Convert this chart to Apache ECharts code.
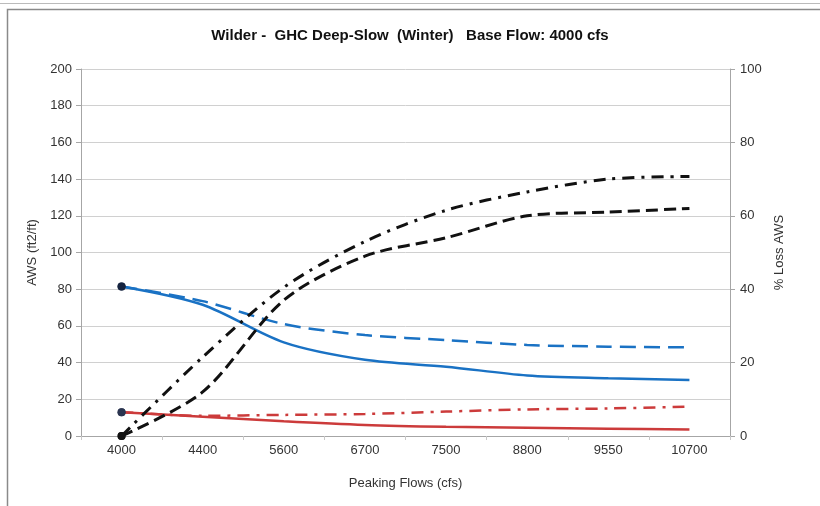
<!DOCTYPE html>
<html>
<head>
<meta charset="utf-8">
<script src="https://cdn.jsdelivr.net/npm/echarts@6/dist/echarts.min.js"></script>
<style>
html,body{margin:0;padding:0;background:#fff;}
#chart{width:820px;height:506px;}
</style>
</head>
<body>
<div id="chart"></div>
<script>
const categories = ['4000', '4400', '5600', '6700', '7500', '8800', '9550', '10700'];
const leftTicks = [0, 20, 40, 60, 80, 100, 120, 140, 160, 180, 200];
const rightTicks = [0, 20, 40, 60, 80, 100];
// AWS (ft2/ft) – left axis
const awsBlueSolid   = [81.5, 71.5, 51, 41.5, 37.8, 33, 31.5, 30.5];
const awsBlueDashed  = [81.5, 73.5, 61, 55, 52.3, 49.6, 48.7, 48.3];
const awsRedSolid    = [13, 10.5, 8, 6, 5, 4.5, 4, 3.5];
const awsRedDashDot  = [13, 11, 11.5, 12, 13.3, 14.5, 15, 16];
// % Loss AWS – right axis
const lossBlackDashed  = [0, 12, 37, 49, 54, 60, 61, 62];
const lossBlackDashDot = [0, 21.5, 40.5, 53, 61.5, 66.5, 70, 70.7];

const FONT = '"Liberation Sans", Arial, sans-serif';

function withStartMarker(arr, color) {
  return arr.map((v, i) => i === 0
    ? { value: v, symbolSize: 8, itemStyle: { color: color } }
    : v);
}

function lineSeries(name, data, color, width, dash, yIndex, markerColor) {
  return {
    name: name,
    type: 'line',
    yAxisIndex: yIndex,
    data: withStartMarker(data, markerColor),
    symbol: 'circle',
    symbolSize: 0,
    showSymbol: true,
    smooth: 0.3,
    animation: false,
    itemStyle: { color: color },
    lineStyle: { color: color, width: width, type: dash, cap: 'butt' },
    z: 3
  };
}

const chart = echarts.init(document.getElementById('chart'), null, { renderer: 'canvas' });
chart.setOption({
  animation: false,
  backgroundColor: '#ffffff',
  textStyle: { fontFamily: FONT },
  title: {
    text: 'Wilder -  GHC Deep-Slow  (Winter)   Base Flow: 4000 cfs',
    left: 'center',
    top: 23,
    textStyle: { fontFamily: FONT, fontSize: 15, fontWeight: 'bold', color: '#111' }
  },
  graphic: [
    { type: 'rect', shape: { x: 7.5, y: 9.5, width: 840, height: 520 },
      style: { fill: 'none', stroke: '#8a8a8a', lineWidth: 1.5 }, silent: true, z: -1 },
    { type: 'line', shape: { x1: 0, y1: 3.5, x2: 820, y2: 3.5 },
      style: { stroke: '#bbbbbb', lineWidth: 1 }, silent: true, z: -1 }
  ],
  grid: { left: 81, right: 90, top: 69, bottom: 70, containLabel: false },
  xAxis: {
    type: 'category',
    data: categories,
    boundaryGap: true,
    name: 'Peaking Flows (cfs)',
    nameLocation: 'middle',
    nameGap: 41,
    nameTextStyle: { fontFamily: FONT, fontSize: 13, color: '#333' },
    axisLine: { show: true, lineStyle: { color: '#a6a6a6', width: 1 } },
    axisTick: { show: true, alignWithLabel: false, length: 4, lineStyle: { color: '#c8c8c8' } },
    axisLabel: { fontFamily: FONT, fontSize: 13, color: '#333', margin: 8 },
    splitLine: { show: false }
  },
  yAxis: [
    {
      type: 'value',
      min: leftTicks[0],
      max: leftTicks[leftTicks.length - 1],
      interval: leftTicks[1] - leftTicks[0],
      position: 'left',
      name: 'AWS (ft2/ft)',
      nameLocation: 'middle',
      nameRotate: 90,
      nameGap: 40,
      nameTextStyle: { fontFamily: FONT, fontSize: 13, color: '#333' },
      axisLine: { show: true, lineStyle: { color: '#a6a6a6', width: 1 } },
      axisTick: { show: true, length: 5, lineStyle: { color: '#a6a6a6' } },
      axisLabel: { fontFamily: FONT, fontSize: 13, color: '#333', margin: 9 },
      splitLine: { show: true, lineStyle: { color: '#d0d0d0', width: 1 } }
    },
    {
      type: 'value',
      min: rightTicks[0],
      max: rightTicks[rightTicks.length - 1],
      interval: rightTicks[1] - rightTicks[0],
      position: 'right',
      name: '% Loss AWS',
      nameLocation: 'middle',
      nameRotate: 90,
      nameGap: 39,
      nameTextStyle: { fontFamily: FONT, fontSize: 13, color: '#333' },
      axisLine: { show: true, lineStyle: { color: '#a6a6a6', width: 1 } },
      axisTick: { show: true, length: 5, lineStyle: { color: '#a6a6a6' } },
      axisLabel: { fontFamily: FONT, fontSize: 13, color: '#333', margin: 10 },
      splitLine: { show: false }
    }
  ],
  series: [
    lineSeries('AWS blue solid', awsBlueSolid, '#1a72c4', 2.5, 'solid', 0, '#15233f'),
    lineSeries('AWS blue dashed', awsBlueDashed, '#1a72c4', 2.5, [16, 8], 0, '#15233f'),
    lineSeries('AWS red solid', awsRedSolid, '#cc3b3b', 2.5, 'solid', 0, '#2b3550'),
    lineSeries('AWS red dash-dot', awsRedDashDot, '#cc3b3b', 2.5, [12, 7, 3, 7], 0, '#2b3550'),
    lineSeries('% Loss black dashed', lossBlackDashed, '#111111', 3, [12, 6], 1, '#111111'),
    lineSeries('% Loss black dash-dot', lossBlackDashDot, '#111111', 3, [12, 7, 3, 7], 1, '#111111')
  ]
});
</script>
</body>
</html>
